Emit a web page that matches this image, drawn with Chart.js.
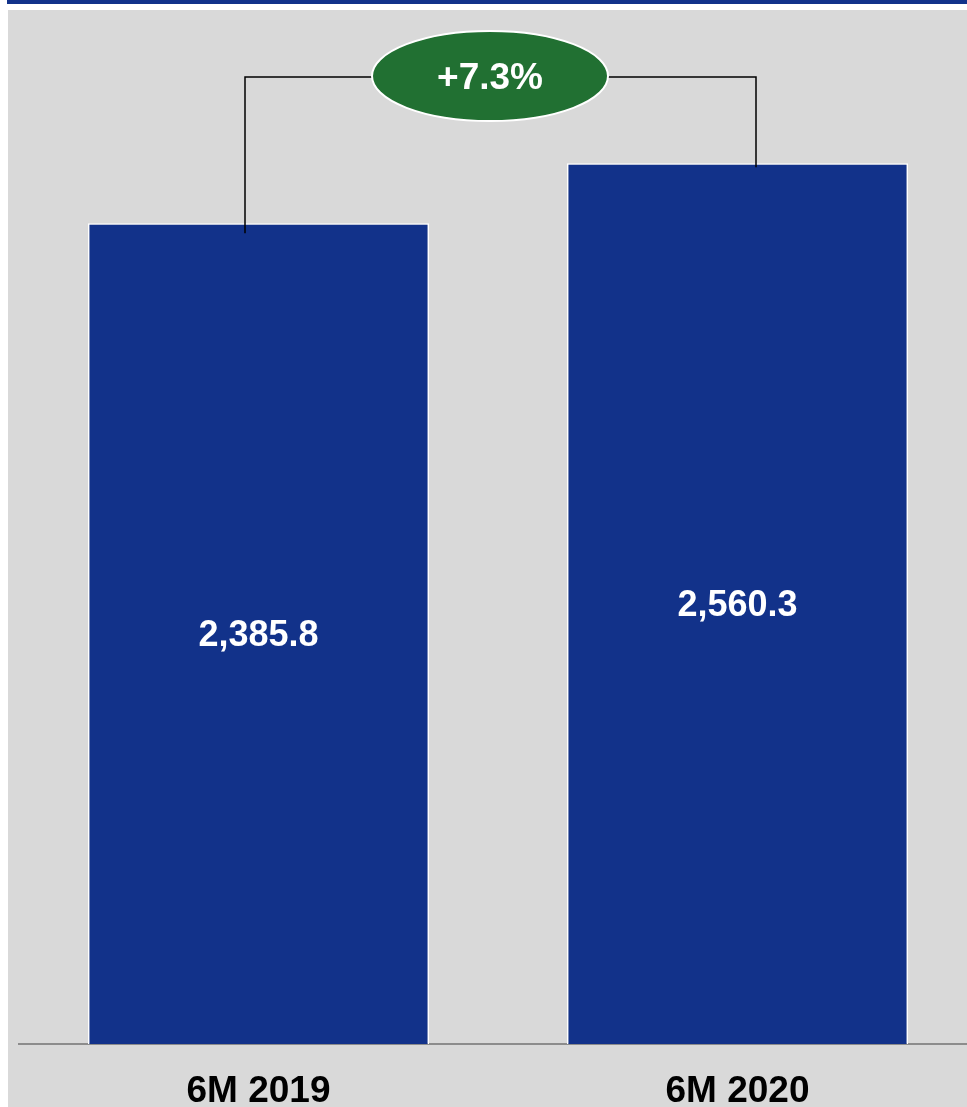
<!DOCTYPE html>
<html>
<head>
<meta charset="utf-8">
<script src="https://cdn.jsdelivr.net/npm/chart.js@4.4.1/dist/chart.umd.min.js"></script>
<style>
  html, body { margin: 0; padding: 0; background: #ffffff; overflow: hidden; }
  body { width: 967px; height: 1107px; position: relative; }
  #band { position: absolute; left: 7px; top: 0; right: 0; height: 4px; background: #12328a; }
  #panel { position: absolute; left: 8px; top: 10px; right: 0; bottom: 0; background: #d9d9d9; }
  #wrap { position: absolute; left: 0; top: 0; width: 977px; height: 1107px; }
</style>
</head>
<body>
<div id="band"></div>
<div id="panel"></div>
<div id="wrap"><canvas id="chart"></canvas></div>
<script>
// Half-year totals
const categories = ['6M 2019', '6M 2020'];
const values = [2385.8, 2560.3];
const yMax = 3000;

const FONT = '"Liberation Sans", Arial, sans-serif';
const BAR_BLUE = '#12328a';
const PILL_GREEN = '#217032';

const fmt = v => v.toLocaleString('en-US', { minimumFractionDigits: 1, maximumFractionDigits: 1 });
const growth = (values[1] / values[0] - 1) * 100;
const growthText = (growth >= 0 ? '+' : '') + growth.toFixed(1) + '%';

// White value labels centred inside each bar
const valueLabels = {
  id: 'valueLabels',
  afterDatasetsDraw(chart) {
    const ctx = chart.ctx;
    const meta = chart.getDatasetMeta(0);
    ctx.save();
    ctx.fillStyle = '#ffffff';
    ctx.font = 'bold 36px ' + FONT;
    ctx.textAlign = 'center';
    ctx.textBaseline = 'middle';
    meta.data.forEach((bar, i) => {
      ctx.fillText(fmt(values[i]), bar.x, (bar.y + bar.base) / 2 + 2);
    });
    ctx.restore();
  }
};

// Bracket joining the two bars with the growth pill on top
const growthBracket = {
  id: 'growthBracket',
  afterDatasetsDraw(chart) {
    const ctx = chart.ctx;
    const [b1, b2] = chart.getDatasetMeta(0).data;
    const lineY = 77;
    const x1 = b1.x - 13.5, x2 = b2.x + 18.5;
    ctx.save();
    ctx.strokeStyle = '#000000';
    ctx.lineWidth = 1.5;
    ctx.beginPath();
    ctx.moveTo(x1, b1.y + 10);
    ctx.lineTo(x1, lineY);
    ctx.lineTo(x2, lineY);
    ctx.lineTo(x2, b2.y + 4);
    ctx.stroke();

    const cx = (b1.x + b2.x) / 2 - 8, cy = 76;
    ctx.beginPath();
    ctx.ellipse(cx, cy, 118, 45, 0, 0, Math.PI * 2);
    ctx.fillStyle = PILL_GREEN;
    ctx.fill();
    ctx.strokeStyle = '#ffffff';
    ctx.lineWidth = 2;
    ctx.stroke();

    ctx.fillStyle = '#ffffff';
    ctx.font = 'bold 37px ' + FONT;
    ctx.textAlign = 'center';
    ctx.textBaseline = 'middle';
    ctx.fillText(growthText, cx, cy + 3);
    ctx.restore();
  }
};

new Chart(document.getElementById('chart'), {
  type: 'bar',
  data: {
    labels: categories,
    datasets: [{
      data: values,
      backgroundColor: BAR_BLUE,
      borderColor: '#ffffff',
      borderWidth: { top: 1.5, left: 1.5, right: 1.5, bottom: 0 },
      borderSkipped: false,
      barPercentage: 0.712,
      categoryPercentage: 1
    }]
  },
  options: {
    responsive: true,
    maintainAspectRatio: false,
    animation: false,
    events: [],
    layout: { padding: { left: 19, right: 0, top: 12, bottom: 0 } },
    plugins: { legend: { display: false }, tooltip: { enabled: false } },
    scales: {
      x: {
        grid: { display: false, drawTicks: false },
        border: { display: true, color: '#8c8c8c', width: 2 },
        ticks: {
          color: '#000000',
          padding: 26,
          font: { family: FONT, size: 37, weight: 'bold', lineHeight: 1.2 }
        },
        afterFit(axis) { axis.height = 63; }
      },
      y: {
        display: false,
        min: 0,
        max: yMax
      }
    }
  },
  plugins: [valueLabels, growthBracket]
});
</script>
</body>
</html>
